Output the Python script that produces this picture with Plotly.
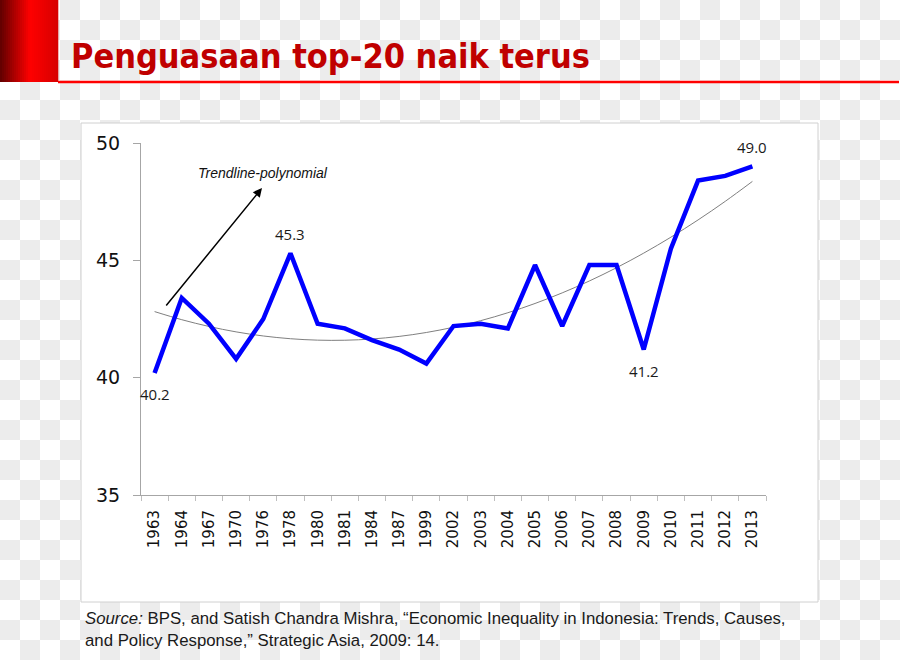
import numpy as np
import plotly.graph_objects as go

# ---------------- data ----------------
years = ["1963", "1964", "1967", "1970", "1976", "1978", "1980", "1981", "1984",
         "1987", "1999", "2002", "2003", "2004", "2005", "2006", "2007", "2008",
         "2009", "2010", "2011", "2012", "2013"]
share_top20 = [40.2, 43.4, 42.3, 40.8, 42.5, 45.3, 42.3, 42.1, 41.6,
               41.2, 40.6, 42.2, 42.3, 42.1, 44.8, 42.2, 44.8, 44.8,
               41.2, 45.5, 48.4, 48.6, 49.0]
labelled_years = ["1963", "1978", "2009", "2013"]
y_ticks = [35, 40, 45, 50]

title_text = "Penguasaan top-20 naik terus"
trend_text = "Trendline-polynomial"
source_line1 = "<i>Source:</i> BPS, and Satish Chandra Mishra, \u201cEconomic Inequality in Indonesia: Trends, Causes,"
source_line2 = "and Policy Response,\u201d Strategic Asia, 2009: 14."

# polynomial (order 2) trendline fitted to the series
idx = np.arange(len(years))
coef = np.polyfit(idx, share_top20, 2)
trend = np.polyval(coef, idx)

# ---------------- layout geometry ----------------
W, H = 900, 660
L, R, T, B = 141, 766, 143, 495


def fx(px):
    return (px - L) / (R - L)


def fy(py):
    return (B - py) / (B - T)


fig = go.Figure()

fig.add_trace(go.Scatter(x=years, y=trend.tolist(), mode="lines",
                         line=dict(color="#7f7f7f", width=1, shape="spline"),
                         hoverinfo="skip", showlegend=False))
fig.add_trace(go.Scatter(x=years, y=share_top20, mode="lines",
                         line=dict(color="#0000ff", width=4.5),
                         showlegend=False))

shapes = []
# checkerboard background
parts = []
cell = 20
for i in range(W // cell + 1):
    for j in range(H // cell + 1):
        if (i + j) % 2 == 1:
            x0, x1 = fx(i * cell), fx(min((i + 1) * cell, W))
            y0, y1 = fy(j * cell), fy(min((j + 1) * cell, H))
            parts.append(f"M{x0:.5f},{y0:.5f}L{x1:.5f},{y0:.5f}L{x1:.5f},{y1:.5f}L{x0:.5f},{y1:.5f}Z")
shapes.append(dict(type="path", xref="paper", yref="paper", path="".join(parts),
                   fillcolor="#ececec", line=dict(width=0), layer="below"))
# chart box
shapes.append(dict(type="rect", xref="paper", yref="paper",
                   x0=fx(81), x1=fx(818), y0=fy(123), y1=fy(602),
                   fillcolor="white", line=dict(color="#d0d0d0", width=1), layer="below"))
# red gradient bar
nstrip = 29
for k in range(nstrip):
    xa = k * 58 / nstrip
    xb = (k + 1) * 58 / nstrip
    xm = (xa + xb) / 2
    if xm < 30:
        t = xm / 30
        r = int(95 + (255 - 95) * t)
    else:
        t = (xm - 30) / 28
        r = int(255 - 40 * t)
    shapes.append(dict(type="rect", xref="paper", yref="paper",
                       x0=fx(xa), x1=fx(xb + 0.3), y0=fy(0), y1=fy(82),
                       fillcolor=f"rgb({r},0,0)", line=dict(width=0), layer="below"))
# red rule line
shapes.append(dict(type="rect", xref="paper", yref="paper",
                   x0=fx(58), x1=fx(899), y0=fy(80.8), y1=fy(83.2),
                   fillcolor="#ff0000", line=dict(width=0), layer="below"))

annotations = []
# title
annotations.append(dict(text=f"<b>{title_text}</b>", xref="paper", yref="paper",
                        x=fx(69), y=fy(56), xanchor="left", yanchor="middle",
                        showarrow=False,
                        font=dict(family="DejaVu Sans Condensed, Liberation Sans Narrow, sans-serif",
                                  size=34, color="#c00000")))
# trendline label + arrow
annotations.append(dict(text=f"<i>{trend_text}</i>", xref="paper", yref="paper",
                        x=fx(263), y=fy(173), xanchor="center", yanchor="middle",
                        showarrow=False,
                        font=dict(family="Liberation Sans, Arial, sans-serif", size=14, color="#111111")))
annotations.append(dict(text="", xref="paper", yref="paper",
                        x=fx(262), y=fy(188), ax=-97, ay=119, axref="pixel", ayref="pixel",
                        showarrow=True, arrowhead=2, arrowsize=1.2, arrowwidth=1.5,
                        arrowcolor="#000000", standoff=0))
# data labels (x given as category index on the category axis)
for yr in labelled_years:
    k = years.index(yr)
    v = share_top20[k]
    below = yr in ("1963", "2009")
    annotations.append(dict(text=f"{v:.1f}", x=k, y=v, xref="x", yref="y",
                            showarrow=False, yshift=-21 if below else 19,
                            font=dict(family="Open Sans, sans-serif", size=15, color="#1a1a1a")))
# source (one two-line text block)
annotations.append(dict(text=source_line1 + "<br>" + source_line2, xref="paper", yref="paper",
                        x=fx(83), y=fy(629), xanchor="left", yanchor="middle", align="left",
                        showarrow=False,
                        font=dict(family="Liberation Sans, Arial, sans-serif", size=16.8, color="#1a1a1a")))

fig.update_layout(
    width=W, height=H,
    margin=dict(l=L, r=W - R, t=T, b=H - B, pad=0),
    paper_bgcolor="white", plot_bgcolor="white",
    shapes=shapes, annotations=annotations,
    showlegend=False,
    xaxis=dict(type="category", categoryorder="array", categoryarray=years,
               range=[-0.5, len(years) - 0.5], tickson="boundaries",
               ticks="outside", ticklen=5, tickcolor="#bfbfbf", tickwidth=1,
               showline=True, linecolor="#a6a6a6", linewidth=1,
               showgrid=False, zeroline=False, tickangle=-90,
               ticklabelstandoff=8,
               tickfont=dict(family="DejaVu Sans, Verdana, sans-serif", size=15, color="#111111")),
    yaxis=dict(range=[35, 50], tickvals=y_ticks, ticks="outside", ticklen=7,
               tickcolor="#a6a6a6", showline=True, linecolor="#a6a6a6", linewidth=1,
               showgrid=False, zeroline=False, ticklabelstandoff=9,
               tickfont=dict(family="DejaVu Sans, Verdana, sans-serif", size=19, color="#111111")),
)

fig.write_html("out.html")
